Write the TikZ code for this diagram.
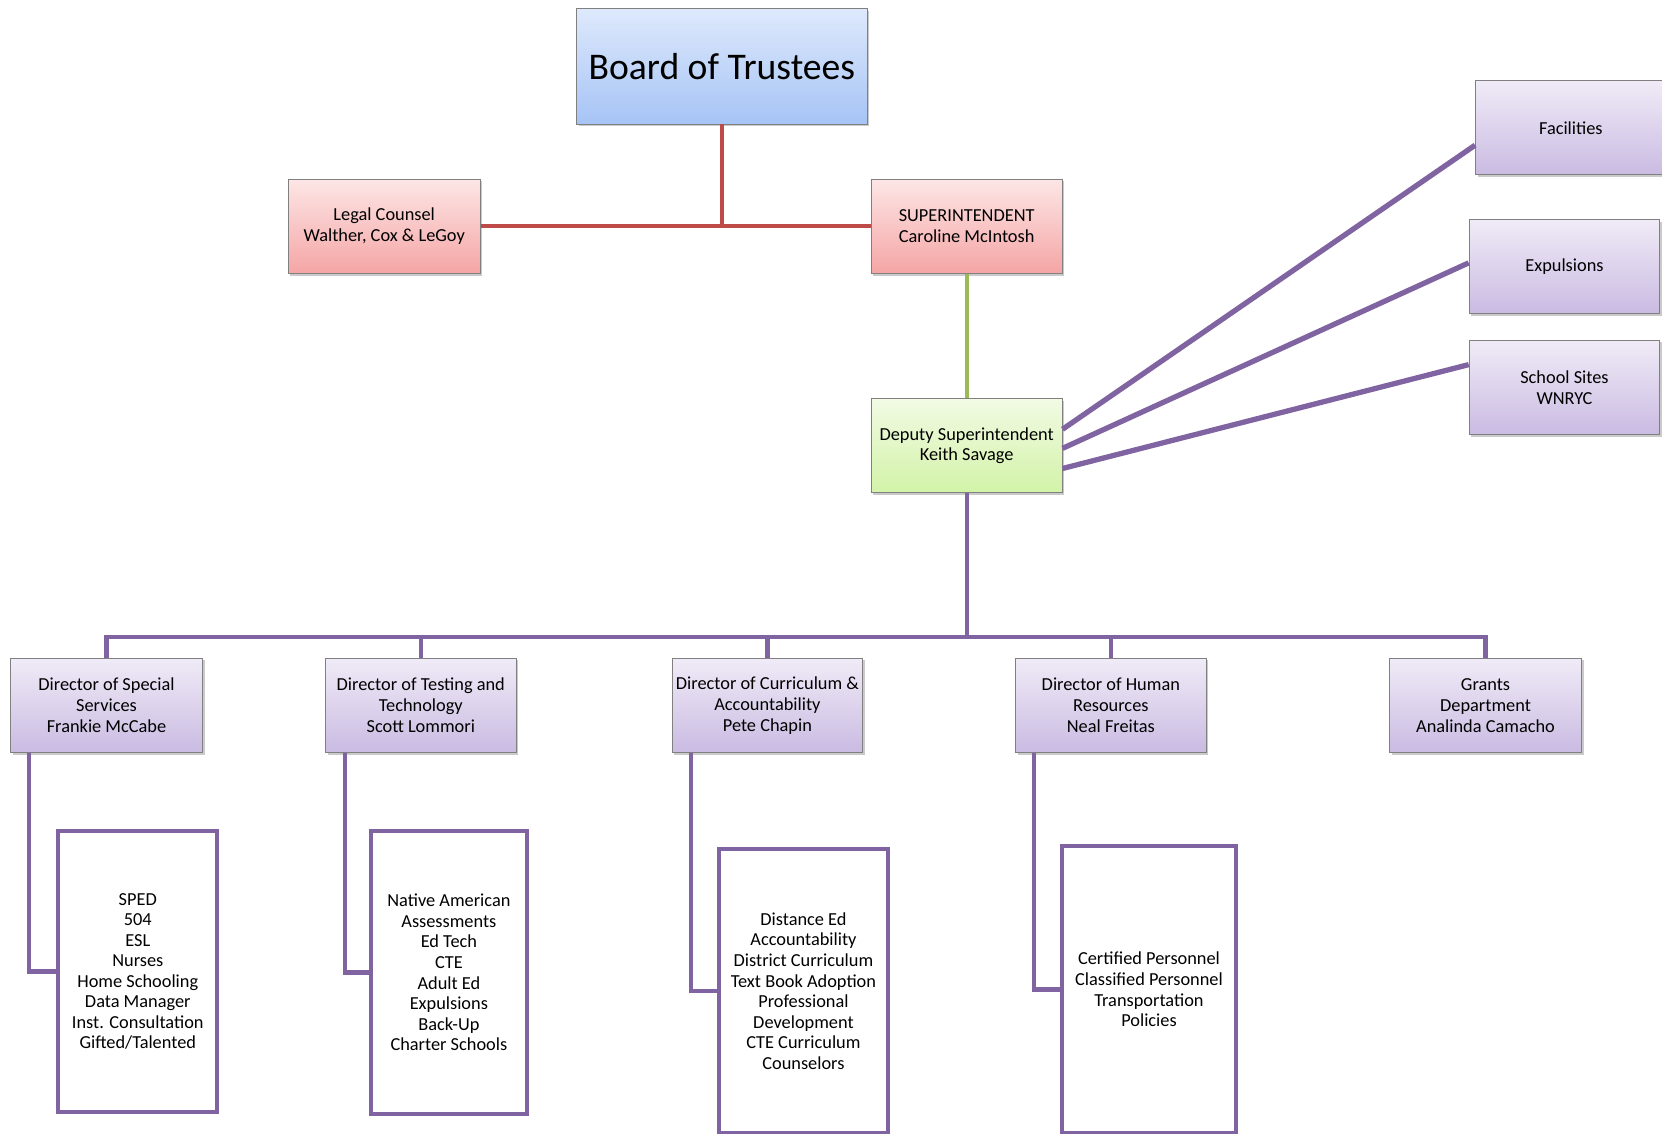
\documentclass[tikz,border=0pt]{standalone}
\usepackage{fontspec}
\setmainfont{Carlito}
\usetikzlibrary{shadows}
\definecolor{pur}{HTML}{8064A2}
\definecolor{redl}{HTML}{BE4B48}
\definecolor{grn}{HTML}{9BBB59}
\tikzset{
  box/.style={draw=black!50, line width=0.8pt, align=center, inner sep=2pt,
    font=\fontsize{17.3}{19.6}\selectfont,
    drop shadow={shadow xshift=2pt, shadow yshift=-2pt, opacity=0.35, fill=black!60}},
  bluebox/.style={box, top color={rgb,255:red,222;green,233;blue,252}, bottom color={rgb,255:red,166;green,196;blue,245}},
  redbox/.style={box, top color={rgb,255:red,253;green,230;blue,230}, bottom color={rgb,255:red,245;green,165;blue,165}},
  greenbox/.style={box, top color={rgb,255:red,242;green,250;blue,228}, bottom color={rgb,255:red,210;green,243;blue,168}},
  purbox/.style={box, top color={rgb,255:red,240;green,235;blue,247}, bottom color={rgb,255:red,202;green,187;blue,226}},
  listbox/.style={draw=pur, line width=4pt, fill=white, align=center,
    font=\fontsize{17.3}{19.4}\selectfont},
  pline/.style={draw=pur, line width=4pt},
  dline/.style={draw=pur, line width=5pt},
  rline/.style={draw=redl, line width=4pt},
  gline/.style={draw=grn, line width=4pt},
}
\begin{document}
\begin{tikzpicture}[x=1pt, y=-1pt]
\useasboundingbox (0,0) rectangle (1568,1069);
% top
\node[bluebox, minimum width=274pt, minimum height=109pt, font=\fontsize{35.5}{40}\selectfont] (board) at (681,62.5) {Board of Trustees};
\node[redbox, minimum width=181pt, minimum height=89pt] (legal) at (362.5,213.5) {Legal Counsel\\Walther, Cox \& LeGoy};
\node[redbox, minimum width=180pt, minimum height=89pt] (super) at (912,213.5) {SUPERINTENDENT\\Caroline McIntosh};
\node[greenbox, minimum width=180pt, minimum height=89pt] (deputy) at (912,420.5) {Deputy Superintendent\\Keith Savage};
% right boxes
\node[purbox, minimum width=180pt, minimum height=89pt] (fac) at (1482,120.5) {Facilities};
\node[purbox, minimum width=180pt, minimum height=89pt] (exp) at (1476,251.5) {Expulsions};
\node[purbox, minimum width=180pt, minimum height=89pt] (sites) at (1476,365.5) {School Sites\\WNRYC};
% directors
\node[purbox, minimum width=181pt, minimum height=89pt] (dir1) at (100.5,665.5) {Director of Special\\Services\\Frankie McCabe};
\node[purbox, minimum width=180pt, minimum height=89pt] (dir2) at (397,665.5) {Director of Testing and\\Technology\\Scott Lommori};
\node[purbox, minimum width=180pt, minimum height=89pt] (dir3) at (724,665.5) {Director of Curriculum \&\\Accountability\\Pete Chapin};
\node[purbox, minimum width=180pt, minimum height=89pt] (dir4) at (1048,665.5) {Director of Human\\Resources\\Neal Freitas};
\node[purbox, minimum width=181pt, minimum height=89pt] (dir5) at (1401.5,665.5) {Grants\\Department\\Analinda Camacho};
% lists
\node[listbox, minimum width=150pt, minimum height=265pt] (list1) at (130,916.5) {SPED\\504\\ESL\\Nurses\\Home Schooling\\Data Manager\\Inst. Consultation\\Gifted/Talented};
\node[listbox, minimum width=147pt, minimum height=267pt] (list2) at (423.5,917.5) {Native American\\Assessments\\Ed Tech\\CTE\\Adult Ed\\Expulsions\\Back-Up\\Charter Schools};
\node[listbox, minimum width=160pt, minimum height=268pt] (list3) at (758,935) {Distance Ed\\Accountability\\District Curriculum\\Text Book Adoption\\Professional\\Development\\CTE Curriculum\\Counselors};
\node[listbox, minimum width=164pt, minimum height=271pt] (list4) at (1084,933.5) {Certified Personnel\\Classified Personnel\\Transportation\\Policies};
% connectors
\draw[rline] (board.south) -- (board.south |- legal.east);
\draw[rline] (legal.east) -- (super.west);
\draw[gline] (super.south) -- (deputy.north);
\draw[dline] ([yshift=15.5pt]deputy.east) -- ([yshift=-16.5pt]fac.west);
\draw[dline] ([yshift=-2.5pt]deputy.east) -- ([yshift=3.5pt]exp.west);
\draw[dline] ([yshift=-21.5pt]deputy.east) -- ([yshift=21.5pt]sites.west);
\coordinate (bus) at (912,601);
\draw[pline] (deputy.south) -- (bus);
\draw[pline] (dir1.north) |- (dir5.north |- bus) -- (dir5.north);
\draw[pline] (dir2.north) -- (dir2.north |- bus);
\draw[pline] (dir3.north) -- (dir3.north |- bus);
\draw[pline] (dir4.north) -- (dir4.north |- bus);
\draw[pline] ([xshift=18pt]dir1.south west) |- (list1.west);
\draw[pline] ([xshift=19pt]dir2.south west) |- (list2.west);
\draw[pline] ([xshift=18pt]dir3.south west) |- (list3.west);
\draw[pline] ([xshift=18pt]dir4.south west) |- (list4.west);
\end{tikzpicture}
\end{document}
